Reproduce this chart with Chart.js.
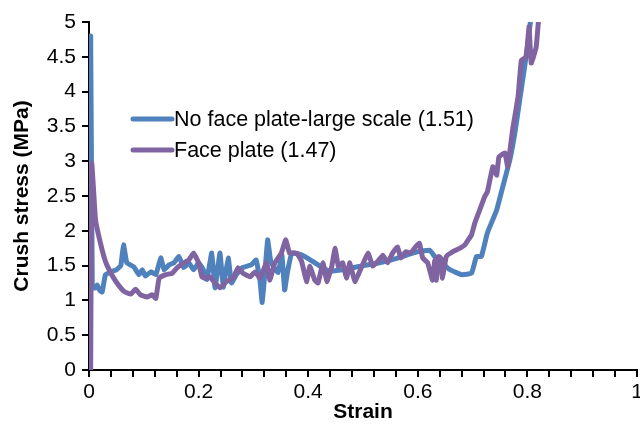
<!DOCTYPE html>
<html lang="en">
<head>
    <meta charset="UTF-8">
    <title>Crush stress vs strain</title>
    <script src="https://cdn.jsdelivr.net/npm/chart.js"></script>
    <style>
        body { margin: 0; background: #fff; }
    </style>
</head>
<body>
    <canvas id="crushChart" width="640" height="425"></canvas>

    <script>
        // No face plate-large scale (1.51)
        const noPlateStrain = [0.002, 0.003, 0.006, 0.009, 0.012, 0.015, 0.02, 0.024, 0.03, 0.04, 0.05, 0.058, 0.063, 0.069, 0.082, 0.091, 0.097, 0.103, 0.113, 0.122, 0.131, 0.137, 0.146, 0.155, 0.164, 0.173, 0.182, 0.191, 0.2, 0.208, 0.215, 0.224, 0.23, 0.239, 0.245, 0.254, 0.26, 0.269, 0.28, 0.296, 0.305, 0.312, 0.316, 0.321, 0.326, 0.332, 0.345, 0.352, 0.357, 0.362, 0.37, 0.385, 0.4, 0.42, 0.44, 0.47, 0.5, 0.53, 0.56, 0.6, 0.622, 0.631, 0.659, 0.68, 0.698, 0.707, 0.716, 0.727, 0.744, 0.755, 0.768, 0.777, 0.786, 0.795, 0.803, 0.81];
        const noPlateStress = [2.0, 4.8, 1.2, 1.18, 1.18, 1.22, 1.14, 1.12, 1.37, 1.41, 1.44, 1.5, 1.8, 1.54, 1.48, 1.37, 1.44, 1.35, 1.41, 1.37, 1.61, 1.44, 1.51, 1.54, 1.63, 1.47, 1.54, 1.44, 1.54, 1.45, 1.3, 1.68, 1.18, 1.68, 1.19, 1.61, 1.25, 1.37, 1.47, 1.51, 1.58, 1.29, 0.97, 1.4, 1.87, 1.55, 1.4, 1.65, 1.15, 1.4, 1.68, 1.66, 1.6, 1.5, 1.42, 1.45, 1.5, 1.54, 1.6, 1.7, 1.72, 1.63, 1.44, 1.37, 1.39, 1.63, 1.63, 1.97, 2.3, 2.63, 3.02, 3.4, 3.88, 4.36, 4.84, 5.3];

        // Face plate (1.47)
        const facePlateStrain = [0.003, 0.005, 0.009, 0.012, 0.021, 0.03, 0.04, 0.051, 0.064, 0.076, 0.085, 0.094, 0.106, 0.115, 0.122, 0.128, 0.14, 0.152, 0.161, 0.173, 0.182, 0.191, 0.2, 0.206, 0.211, 0.22, 0.23, 0.239, 0.251, 0.263, 0.272, 0.281, 0.294, 0.303, 0.312, 0.324, 0.33, 0.339, 0.351, 0.359, 0.366, 0.379, 0.388, 0.397, 0.403, 0.412, 0.418, 0.427, 0.434, 0.443, 0.449, 0.455, 0.463, 0.47, 0.476, 0.485, 0.498, 0.509, 0.518, 0.527, 0.536, 0.545, 0.554, 0.563, 0.569, 0.578, 0.587, 0.596, 0.603, 0.609, 0.618, 0.627, 0.631, 0.634, 0.638, 0.643, 0.645, 0.652, 0.664, 0.677, 0.686, 0.692, 0.698, 0.704, 0.713, 0.722, 0.727, 0.737, 0.744, 0.748, 0.759, 0.764, 0.773, 0.783, 0.789, 0.798, 0.803, 0.807, 0.816, 0.822];
        const facePlateStress = [0, 2.97, 2.5, 2.15, 1.82, 1.56, 1.39, 1.25, 1.13, 1.09, 1.16, 1.08, 1.05, 1.08, 1.03, 1.32, 1.37, 1.39, 1.47, 1.54, 1.58, 1.68, 1.54, 1.34, 1.32, 1.34, 1.25, 1.18, 1.27, 1.32, 1.47, 1.39, 1.34, 1.41, 1.32, 1.54, 1.29, 1.54, 1.68, 1.87, 1.68, 1.68, 1.56, 1.27, 1.49, 1.29, 1.25, 1.54, 1.27, 1.49, 1.75, 1.49, 1.54, 1.32, 1.54, 1.27, 1.49, 1.68, 1.49, 1.56, 1.65, 1.54, 1.68, 1.77, 1.61, 1.7, 1.68, 1.77, 1.82, 1.61, 1.54, 1.29, 1.58, 1.29, 1.63, 1.6, 1.32, 1.63, 1.7, 1.75, 1.8, 1.87, 1.94, 2.11, 2.3, 2.49, 2.56, 2.92, 2.8, 3.06, 3.12, 2.92, 3.45, 3.93, 4.45, 4.5, 4.93, 4.41, 4.64, 5.2];

        const seriesLabels = ['No face plate-large scale (1.51)', 'Face plate (1.47)'];
        const seriesColors = ['#4F81BD', '#8064A2'];

        const FONT = '"Liberation Sans", Arial, Helvetica, sans-serif';

        function toPoints(xs, ys) {
            return xs.map((x, i) => ({ x: x, y: ys[i] }));
        }

        function cleanNum(v) {
            return String(Math.round(v * 100) / 100);
        }

        // legend drawn inside the plot, like the original
        const insideLegend = {
            id: 'insideLegend',
            afterDraw(chart) {
                const ctx = chart.ctx;
                const area = chart.chartArea;
                const x0 = area.left + 44;
                const y0 = area.top + 97;
                ctx.save();
                ctx.font = '21.5px ' + FONT;
                ctx.textBaseline = 'middle';
                seriesLabels.forEach((label, i) => {
                    const y = y0 + i * 31;
                    ctx.strokeStyle = seriesColors[i];
                    ctx.lineWidth = 5;
                    ctx.lineCap = 'round';
                    ctx.beginPath();
                    ctx.moveTo(x0, y);
                    ctx.lineTo(x0 + 39, y);
                    ctx.stroke();
                    ctx.fillStyle = '#000';
                    ctx.fillText(label, x0 + 41, y + 1);
                });
                ctx.restore();
            }
        };

        const ctx = document.getElementById('crushChart').getContext('2d');

        new Chart(ctx, {
            type: 'scatter',
            data: {
                datasets: [
                    {
                        label: seriesLabels[0],
                        data: toPoints(noPlateStrain, noPlateStress),
                        borderColor: seriesColors[0],
                        order: 1
                    },
                    {
                        label: seriesLabels[1],
                        data: toPoints(facePlateStrain, facePlateStress),
                        borderColor: seriesColors[1],
                        order: 0
                    }
                ]
            },
            options: {
                responsive: false,
                animation: false,
                layout: { padding: { top: 22, right: 3, left: 0, bottom: 0 } },
                elements: {
                    point: { radius: 0, hoverRadius: 0 },
                    line: { borderWidth: 5, tension: 0.1, borderJoinStyle: 'round', borderCapStyle: 'round' }
                },
                datasets: { scatter: { showLine: true } },
                plugins: {
                    legend: { display: false },
                    tooltip: { enabled: false }
                },
                scales: {
                    x: {
                        type: 'linear',
                        min: 0,
                        max: 1,
                        afterFit(scale) {
                            scale.height = 55;
                            scale.paddingLeft = 0;
                            scale.paddingRight = 0;
                        },
                        border: { color: '#000', width: 2 },
                        grid: { drawOnChartArea: false, drawTicks: true, tickLength: 7, color: '#000', lineWidth: 2 },
                        ticks: {
                            stepSize: 0.04,
                            autoSkip: false,
                            maxTicksLimit: 40,
                            maxRotation: 0,
                            padding: 3,
                            color: '#000',
                            font: { family: FONT, size: 21 },
                            callback(v) {
                                const k = v * 5;
                                return Math.abs(k - Math.round(k)) < 1e-6 ? cleanNum(v) : '';
                            }
                        },
                        title: {
                            display: true,
                            text: 'Strain',
                            color: '#000',
                            padding: { top: 0, bottom: 0 },
                            font: { family: FONT, size: 21, weight: 'bold' }
                        }
                    },
                    y: {
                        min: 0,
                        max: 5,
                        afterFit(scale) {
                            scale.width = 89;
                        },
                        border: { color: '#000', width: 2 },
                        grid: { drawOnChartArea: false, drawTicks: true, tickLength: 7, color: '#000', lineWidth: 2 },
                        ticks: {
                            stepSize: 0.5,
                            padding: 6,
                            color: '#000',
                            font: { family: FONT, size: 21 },
                            callback(v) { return cleanNum(v); }
                        },
                        title: {
                            display: true,
                            text: 'Crush stress (MPa)',
                            color: '#000',
                            padding: { top: 10, bottom: 0 },
                            font: { family: FONT, size: 21, weight: 'bold' }
                        }
                    }
                }
            },
            plugins: [insideLegend]
        });
    </script>
</body>
</html>
